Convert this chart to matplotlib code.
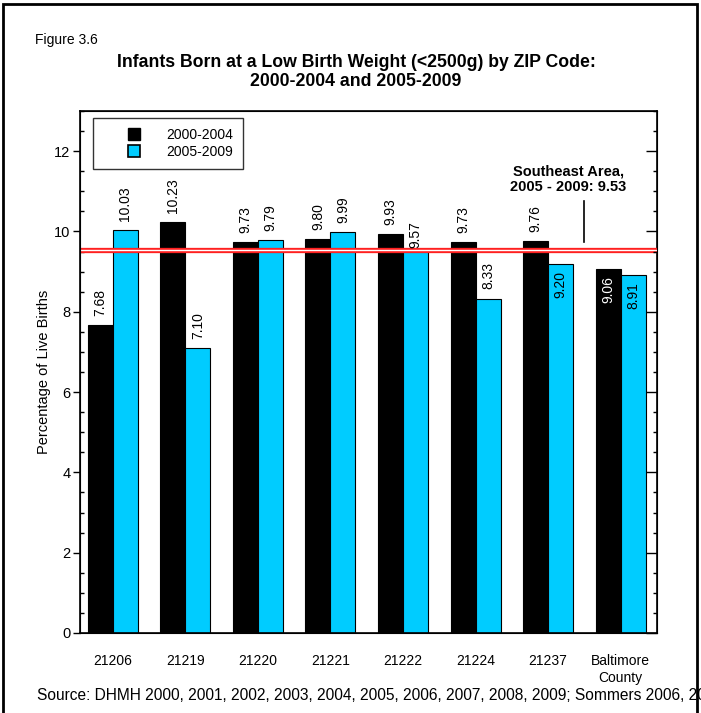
import numpy as np
import matplotlib.pyplot as plt
from matplotlib.ticker import MultipleLocator
from matplotlib.patches import Rectangle
from matplotlib.lines import Line2D

plt.rcParams['font.family'] = ['Liberation Sans', 'DejaVu Sans']

# data
categories = ['21206', '21219', '21220', '21221', '21222', '21224', '21237', 'Baltimore\nCounty']
vals_0004 = [7.68, 10.23, 9.73, 9.80, 9.93, 9.73, 9.76, 9.06]
vals_0509 = [10.03, 7.10, 9.79, 9.99, 9.57, 8.33, 9.20, 8.91]
series_names = ['2000-2004', '2005-2009']
southeast_avg = 9.53
# where each value label goes: 'out' above the bar, 'in' inside the top
place_0004 = ['out', 'out', 'out', 'out', 'out', 'out', 'out', 'in']
place_0509 = ['out', 'out', 'out', 'out', 'tight', 'out', 'in', 'in']

cyan = '#00CCFF'
x = np.arange(len(categories))
w = 0.345

fig = plt.figure(figsize=(7.01, 7.13), dpi=100)
ax = fig.add_axes([80/701, 1 - 633/713, 577/701, 522/713])

b1 = ax.bar(x - w/2, vals_0004, w, color='black', edgecolor='black', linewidth=0.8, zorder=2)
b2 = ax.bar(x + w/2, vals_0509, w, color=cyan, edgecolor='black', linewidth=0.8, zorder=2)

def put_labels(bars, vals, places, incolor):
    for b, v, p in zip(bars, vals, places):
        cx = b.get_x() + b.get_width() / 2
        if p == 'in':
            ax.annotate(f'{v:.2f}', (cx, v), xytext=(0, -5), textcoords='offset points',
                        rotation=90, ha='center', va='top', fontsize=10, color=incolor, zorder=5)
        else:
            off = 0.5 if p == 'tight' else 6.5
            ax.annotate(f'{v:.2f}', (cx, v), xytext=(0, off), textcoords='offset points',
                        rotation=90, ha='center', va='bottom', fontsize=10, color='black', zorder=5)

put_labels(b1, vals_0004, place_0004, 'white')
put_labels(b2, vals_0509, place_0509, 'black')

# double red reference line
ax.axhline(southeast_avg, color='#FF2020', lw=3.8, zorder=4)
ax.axhline(southeast_avg, color='white', lw=1.0, zorder=4)

ax.text(6.28, 11.3, 'Southeast Area,\n2005 - 2009: 9.53', ha='center', va='center',
        fontsize=10.5, fontweight='bold', linespacing=1.2)
ax.plot([6.5, 6.5], [9.73, 10.77], color='black', lw=1.2)

ax.set_xlim(-0.45, 7.5)
ax.set_ylim(0, 13)
ax.set_xticks(x)
ax.set_xticklabels(categories, fontsize=10, linespacing=1.3)
ax.tick_params(axis='x', length=0, pad=15)
ax.yaxis.set_major_locator(MultipleLocator(2))
ax.yaxis.set_minor_locator(MultipleLocator(0.5))
ax.tick_params(axis='y', which='major', direction='out', length=5, width=1, labelsize=10.5, pad=2)
ax.tick_params(axis='y', which='minor', direction='in', length=3, width=1)
ax.set_ylabel('Percentage of Live Births', fontsize=10.5, labelpad=2)
for s in ax.spines.values():
    s.set_linewidth(1.2)

ax2 = ax.twinx()
ax2.set_ylim(ax.get_ylim())
ax2.yaxis.set_major_locator(MultipleLocator(2))
ax2.yaxis.set_minor_locator(MultipleLocator(0.5))
ax2.tick_params(axis='y', which='major', direction='in', length=8, width=1, labelright=False)
ax2.tick_params(axis='y', which='minor', direction='in', length=3, width=1)

handles = [Line2D([], [], marker='s', ls='', markersize=8, markerfacecolor='black',
                  markeredgecolor='black'),
           Line2D([], [], marker='s', ls='', markersize=8, markerfacecolor=cyan,
                  markeredgecolor='black', markeredgewidth=1.2)]
leg = ax.legend(handles, series_names, loc='upper left', bbox_to_anchor=(0.022, 0.986),
                fontsize=10, frameon=True, fancybox=False, edgecolor='black',
                handlelength=4.6, handletextpad=0.0, borderpad=0.7, labelspacing=0.2,
                borderaxespad=0)
leg.get_frame().set_linewidth(1.0)

fig.text(35/701, 1 - 40/713, 'Figure 3.6', fontsize=10, va='center', ha='left')
fig.text(356/701, 1 - 72/713,
         'Infants Born at a Low Birth Weight (<2500g) by ZIP Code:\n2000-2004 and 2005-2009',
         fontsize=12.7, fontweight='bold', ha='center', va='center', linespacing=1.1)
# the reference figure cuts this line off at its right edge
fig.text(37/701, 1 - 696/713,
         'Source: DHMH 2000, 2001, 2002, 2003, 2004, 2005, 2006, 2007, 2008, 2009; Sommers 2006, 2010',
         fontsize=11.2, ha='left', va='center')

fig.patches.append(Rectangle((3/701, -0.1), 694/701, 1.1 - 4/713, transform=fig.transFigure,
                             fill=False, edgecolor='black', lw=2))

fig.savefig('out.png', dpi=100)
